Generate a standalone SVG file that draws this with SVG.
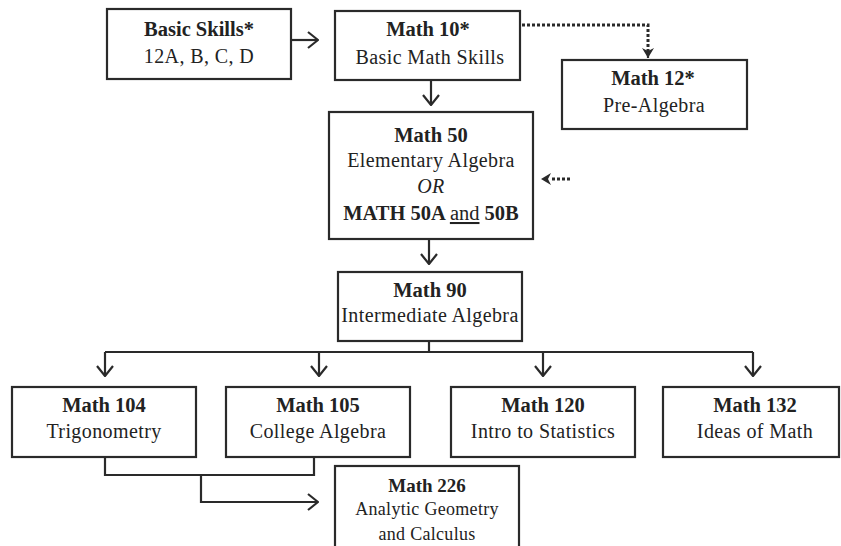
<svg xmlns="http://www.w3.org/2000/svg" width="841" height="546" viewBox="0 0 841 546">
<style>
  .box { fill: #fff; stroke: #2a2a2a; stroke-width: 2.2; }
  text { font-family: "Liberation Serif", "Times New Roman", serif; fill: #222; text-anchor: middle; }
  .t { font-size: 20.5px; font-weight: bold; }
  .s { font-size: 20px; letter-spacing: 0.4px; }
  .ts { font-size: 19px; font-weight: bold; }
  .ss { font-size: 18px; letter-spacing: 0.3px; }
  .ln { fill: none; stroke: #2a2a2a; stroke-width: 2.2; }
  .dot { fill: none; stroke: #2a2a2a; stroke-width: 3; stroke-dasharray: 3 2; }
</style>
<defs>
  <marker id="open" viewBox="-1 -1 12 18" refX="10" refY="8" markerWidth="12" markerHeight="18" markerUnits="userSpaceOnUse" orient="auto">
    <path d="M0,0 L10,8 L0,16" fill="none" stroke="#2a2a2a" stroke-width="2.2"/>
  </marker>
  <marker id="solid" viewBox="0 0 10 12" refX="10" refY="6" markerWidth="10" markerHeight="12" markerUnits="userSpaceOnUse" orient="auto">
    <path d="M0,0 L10,6 L0,12 L3,6 z" fill="#2a2a2a"/>
  </marker>
</defs>
<rect width="841" height="546" fill="#fff"/>
<g id="connectors">
  <line class="ln" x1="292" y1="40" x2="318" y2="40" marker-end="url(#open)"/>
  <path class="dot" d="M522,25 H648 V52"/>
  <line class="ln" x1="648" y1="50" x2="648" y2="58" marker-end="url(#solid)" stroke-width="0"/>
  <line class="ln" x1="431" y1="81" x2="431" y2="105" marker-end="url(#open)"/>
  <path class="dot" d="M570,179 H552"/>
  <line x1="552" y1="179" x2="541" y2="179" stroke="none" marker-end="url(#solid)"/>
  <line class="ln" x1="429" y1="240" x2="429" y2="264" marker-end="url(#open)"/>
  <path class="ln" d="M429,342 V352 M105,352 H753"/>
  <line class="ln" x1="105" y1="352" x2="105" y2="376" marker-end="url(#open)"/>
  <line class="ln" x1="319" y1="352" x2="319" y2="376" marker-end="url(#open)"/>
  <line class="ln" x1="543" y1="352" x2="543" y2="376" marker-end="url(#open)"/>
  <line class="ln" x1="753" y1="352" x2="753" y2="376" marker-end="url(#open)"/>
  <path class="ln" d="M105,458 V475 H314 V458 M201,475 V502 H318" marker-end="url(#open)"/>
</g>
<g id="basic-skills">
  <rect class="box" x="107" y="9" width="184" height="70"/>
  <text class="t" x="199" y="36">Basic Skills*</text>
  <text class="s" x="199" y="63">12A, B, C, D</text>
</g>
<g id="math10">
  <rect class="box" x="335" y="11" width="185" height="69"/>
  <text class="t" x="428" y="36">Math 10*</text>
  <text class="s" x="430" y="64">Basic Math Skills</text>
</g>
<g id="math12">
  <rect class="box" x="562" y="60" width="185" height="69"/>
  <text class="t" x="653" y="85">Math 12*</text>
  <text class="s" x="654" y="112">Pre-Algebra</text>
</g>
<g id="math50">
  <rect class="box" x="329" y="112" width="204" height="127"/>
  <text class="t" x="431" y="142">Math 50</text>
  <text class="s" x="431" y="167">Elementary Algebra</text>
  <text class="s" x="431" y="193" font-style="italic">OR</text>
  <text class="t" x="431" y="220">MATH 50A <tspan font-weight="normal" text-decoration="underline">and</tspan> 50B</text>
</g>
<g id="math90">
  <rect class="box" x="338" y="272" width="184" height="69"/>
  <text class="t" x="430" y="297">Math 90</text>
  <text class="s" x="430" y="322">Intermediate Algebra</text>
</g>
<g id="math104">
  <rect class="box" x="12" y="387" width="184" height="70"/>
  <text class="t" x="104" y="412">Math 104</text>
  <text class="s" x="104" y="438">Trigonometry</text>
</g>
<g id="math105">
  <rect class="box" x="226" y="387" width="184" height="70"/>
  <text class="t" x="318" y="412">Math 105</text>
  <text class="s" x="318" y="438">College Algebra</text>
</g>
<g id="math120">
  <rect class="box" x="451" y="387" width="184" height="70"/>
  <text class="t" x="543" y="412">Math 120</text>
  <text class="s" x="543" y="438">Intro to Statistics</text>
</g>
<g id="math132">
  <rect class="box" x="663" y="387" width="176" height="70"/>
  <text class="t" x="755" y="412">Math 132</text>
  <text class="s" x="755" y="438">Ideas of Math</text>
</g>
<g id="math226">
  <rect class="box" x="335" y="466" width="184" height="90"/>
  <text class="ts" x="427" y="492">Math 226</text>
  <text class="ss" x="427" y="515">Analytic Geometry</text>
  <text class="ss" x="427" y="540">and Calculus</text>
</g>
</svg>
